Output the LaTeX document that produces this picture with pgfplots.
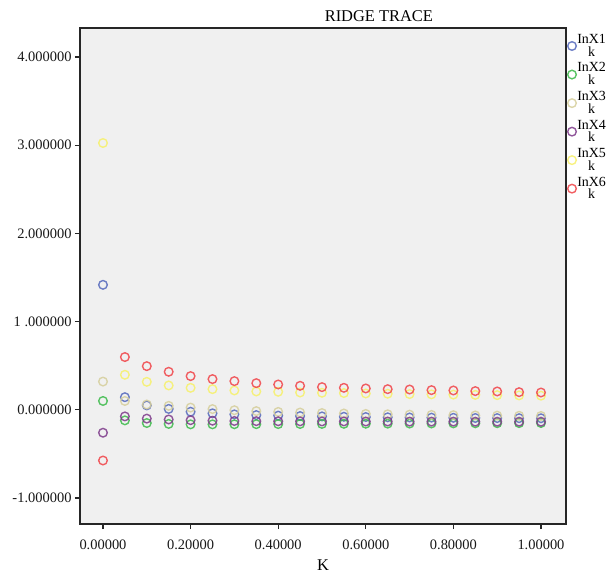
\documentclass[border=0pt]{standalone}
\usepackage{fontspec}
\setmainfont{Liberation Serif}
\usepackage{pgfplots}
\pgfplotsset{compat=1.18}
\usepackage{pgfplotstable}
\definecolor{cA}{HTML}{5468BC}
\definecolor{cB}{HTML}{3CBA4A}
\definecolor{cC}{HTML}{D6CF9C}
\definecolor{cD}{HTML}{7E3A8A}
\definecolor{cE}{HTML}{F7F06A}
\definecolor{cF}{HTML}{F04448}
\definecolor{plotbg}{HTML}{F0F0F0}

\pgfplotstableread{
k    X1     X2     X3     X4     X5     X6
0.00 1.417  0.100  0.320 -0.260  3.025 -0.575
0.05 0.143 -0.120  0.100 -0.075  0.397  0.598
0.10 0.050 -0.150  0.060 -0.100  0.317  0.495
0.15 0.010 -0.160  0.045 -0.110  0.276  0.431
0.20 -0.022 -0.165  0.025 -0.118  0.249  0.382
0.25 -0.040 -0.165  0.008 -0.124  0.234  0.348
0.30 -0.052 -0.164 -0.005 -0.127  0.219  0.325
0.35 -0.060 -0.163 -0.015 -0.129  0.208  0.302
0.40 -0.066 -0.162 -0.024 -0.130  0.204  0.287
0.45 -0.071 -0.161 -0.031 -0.131  0.196  0.272
0.50 -0.075 -0.160 -0.037 -0.132  0.193  0.257
0.55 -0.079 -0.159 -0.042 -0.132  0.190  0.249
0.60 -0.082 -0.158 -0.047 -0.133  0.185  0.242
0.65 -0.085 -0.157 -0.051 -0.133  0.182  0.234
0.70 -0.087 -0.156 -0.055 -0.134  0.178  0.230
0.75 -0.089 -0.155 -0.058 -0.134  0.175  0.223
0.80 -0.091 -0.154 -0.061 -0.134  0.172  0.219
0.85 -0.093 -0.153 -0.064 -0.135  0.169  0.212
0.90 -0.094 -0.152 -0.066 -0.135  0.166  0.208
0.95 -0.095 -0.151 -0.068 -0.135  0.163  0.200
1.00 -0.096 -0.150 -0.070 -0.135  0.160  0.196
}\ridge

\begin{document}
\begin{tikzpicture}
\fill[white] (-80bp,-52bp) rectangle (528bp,524bp);
\begin{axis}[
  scale only axis,
  width=486bp, height=496bp,
  xmin=-0.0525, xmax=1.0571,
  ymin=-1.295, ymax=4.329,
  clip mode=individual,
  axis background/.style={fill=plotbg},
  axis line style={black!85, line width=1.3bp},
  tick style={black!85, line width=1.2bp},
  tick align=outside,
  major tick length=5bp,
  xtick pos=bottom, ytick pos=left,
  xtick={0,0.2,0.4,0.6,0.8,1.0},
  xticklabels={0.00000,0.20000,0.40000,0.60000,0.80000,1.00000},
  ytick={-1,0,1,2,3,4},
  yticklabels={-1.000000,0.000000,1 .000000,2.000000,3.000000,4.000000},
  tick label style={font=\fontsize{14.5}{16}\selectfont, text=black!90},
  xticklabel style={yshift=-7bp},
  xlabel={K},
  xlabel style={at={(0.5,-0.083)}, anchor=center, font=\fontsize{16.5}{18}\selectfont},
  legend style={at={(1,1)}, anchor=north west, draw=none, fill=none,
    inner xsep=1.5pt, inner ysep=5pt, row sep=2.9pt,
    font=\fontsize{14}{13}\selectfont,
    nodes={inner sep=1pt, align=center}},
  legend cell align=left,
  legend image code/.code={\draw[#1] plot coordinates {(0bp,0bp)};},
  every axis plot/.append style={only marks, mark=o, mark size=4.3bp,
    mark options={line width=1.4bp, draw opacity=0.85}},
]
\addplot[cA] table[x=k, y=X1] {\ridge};
\addlegendentry{InX1\\k}
\addplot[cB] table[x=k, y=X2] {\ridge};
\addlegendentry{InX2\\k}
\addplot[cC] table[x=k, y=X3] {\ridge};
\addlegendentry{InX3\\k}
\addplot[cD] table[x=k, y=X4] {\ridge};
\addlegendentry{InX4\\k}
\addplot[cE] table[x=k, y=X5] {\ridge};
\addlegendentry{InX5\\k}
\addplot[cF] table[x=k, y=X6] {\ridge};
\addlegendentry{InX6\\k}
\node[anchor=center, font=\fontsize{16.5}{18}\selectfont] at (rel axis cs:0.615,1.0235) {RIDGE TRACE};
\end{axis}
\pgfresetboundingbox
\path[use as bounding box] (-80bp,-52bp) rectangle (528bp,524bp);
\end{tikzpicture}
\end{document}
